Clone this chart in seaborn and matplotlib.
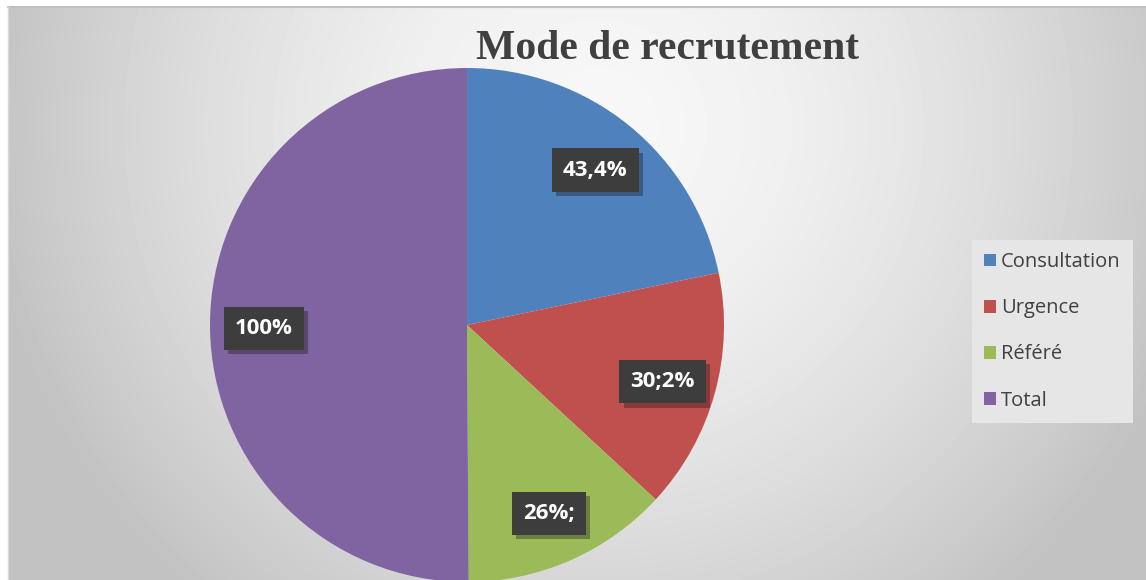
import numpy as np
import matplotlib.pyplot as plt
import matplotlib.patheffects as pe
from matplotlib.patches import Patch
import seaborn as sns

# données
categories = ["Consultation", "Urgence", "Référé", "Total"]
valeurs = [43.4, 30.2, 26.0, 100.0]
etiquettes = ["43,4%", "30;2%", "26%;", "100%"]
couleurs = ["#4F81BD", "#C0504D", "#9BBB59", "#8064A2"]

sns.set_style("white")
plt.rcParams['font.family'] = ['Open Sans', 'DejaVu Sans']

W, H = 1146, 580
fig = plt.figure(figsize=(W / 100, H / 100), dpi=100)
fig.patch.set_facecolor("white")

# fond en dégradé radial
bg = fig.add_axes([8 / W, 0, (W - 8) / W, (H - 7) / H])
yy, xx = np.mgrid[0:573, 0:1138]
r = np.sqrt(((xx - 590) / 560) ** 2 + ((yy - 120) / 560) ** 2)
grad = np.clip(0.97 - 0.18 * r ** 1.6, 0.76, 1)
bg.imshow(grad, cmap="gray", vmin=0, vmax=1, aspect="auto", interpolation="bilinear")
bg.set_axis_off()
fig.add_artist(plt.Line2D([8 / W, 1], [1 - 7 / H, 1 - 7 / H], color="#c0c0c0", lw=1.5))
fig.add_artist(plt.Line2D([8 / W, 8 / W], [0, 1 - 7 / H], color="#d8d8d8", lw=1))

ax = fig.add_axes([0, 0, 1, 1])
wedges, texts = ax.pie(valeurs, labels=etiquettes, colors=couleurs, startangle=90,
                       counterclock=False, center=(467, 255), radius=257,
                       labeldistance=0.79, wedgeprops=dict(linewidth=0),
                       frame=True)
ax.set_xlim(0, W)
ax.set_ylim(0, H)
ax.set_aspect("equal")
ax.set_axis_off()
for t in texts:
    t.set_ha("center")
    t.set_va("center_baseline")
    t.set_color("white")
    t.set_fontsize(16)
    t.set_fontweight("bold")
    t.set_bbox(dict(boxstyle="square,pad=0.5", facecolor="#3d3d3d", edgecolor="none"))
    t.get_bbox_patch().set_path_effects([pe.withSimplePatchShadow(offset=(3, -3), alpha=0.35)])

ax.text(667, H - 49, "Mode de recrutement", ha="center", va="center",
        fontsize=30, fontweight="bold", color="#404040", family="Liberation Serif")

handles = [Patch(facecolor=c, edgecolor="none") for c in couleurs]
leg = fig.legend(handles, categories, loc="upper left",
                 bbox_to_anchor=(972 / W, 1 - 240 / H), borderaxespad=0,
                 frameon=True, fancybox=False, fontsize=14.5,
                 handlelength=0.6, handleheight=0.6, handletextpad=0.25,
                 labelspacing=1.3, borderpad=0.6, labelcolor="#404040")
leg.get_frame().set_facecolor("#e6e6e6")
leg.get_frame().set_edgecolor("none")
leg.get_frame().set_alpha(1)

fig.savefig("out.png", dpi=100)
